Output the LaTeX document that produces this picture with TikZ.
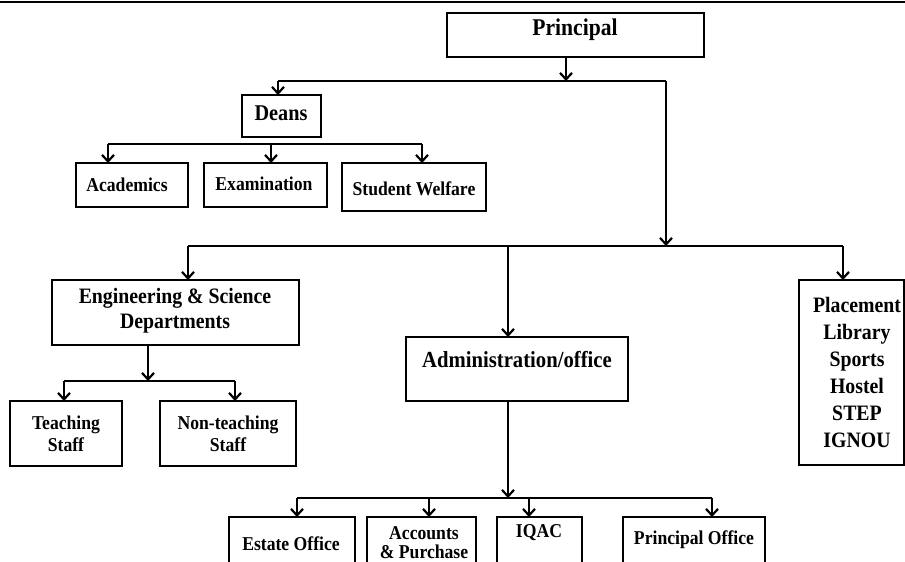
\documentclass[tikz,border=0pt]{standalone}
\usepackage{fontspec}
\setmainfont{Liberation Serif}[FakeStretch=0.9]
\usetikzlibrary{arrows.meta}
\begin{document}
\begin{tikzpicture}[x=1pt,y=-1pt,
  box/.style={draw, line width=2pt, anchor=north west, inner sep=0pt, outer sep=0pt},
  lbl/.style={font=\bfseries\fontsize{19.6}{22}\selectfont, inner sep=0pt, align=center},
  line/.style={line width=2pt},
  arr/.style={line width=2pt, -{Straight Barb[length=6.5pt,width=12pt,line width=2.2pt]}}]
\useasboundingbox (0,0) rectangle (905,562);
\draw[line width=2.5pt] (0,2) -- (905,2);
% boxes
\node[box, minimum width=257pt, minimum height=44pt] (principal) at (447,13) {};
\node[box, minimum width=79pt, minimum height=42pt] (deans) at (242,95) {};
\node[box, minimum width=112pt, minimum height=44pt] (acad) at (76,163) {};
\node[box, minimum width=123pt, minimum height=44pt] (exam) at (204,163) {};
\node[box, minimum width=144pt, minimum height=48pt] (welf) at (342,163) {};
\node[box, minimum width=247pt, minimum height=65pt] (eng) at (52,280) {};
\node[box, minimum width=112pt, minimum height=65pt] (teach) at (10,401) {};
\node[box, minimum width=136pt, minimum height=65pt] (nonteach) at (160,401) {};
\node[box, minimum width=222pt, minimum height=64pt] (admin) at (406,337) {};
\node[box, minimum width=104.5pt, minimum height=185pt] (place) at (799,280) {};
\node[box, minimum width=126pt, minimum height=60pt] (estate) at (229,517) {};
\node[box, minimum width=109pt, minimum height=60pt] (acc) at (367,517) {};
\node[box, minimum width=85pt, minimum height=60pt] (iqac) at (497,517) {};
\node[box, minimum width=142pt, minimum height=60pt] (poff) at (623,517) {};
% texts
\node[lbl, font=\bfseries\fontsize{24}{26}\selectfont] (tprincipal) at (575,30) {Principal};
\node[lbl, font=\bfseries\fontsize{22.5}{24}\selectfont] (tdeans) at (281,113) {Deans};
\node[lbl] (tacad) at (127,185) {Academics};
\node[lbl] (texam) at (264,184) {Examination};
\node[lbl] (twelf) at (414,189) {Student Welfare};
\node[lbl, font=\bfseries\fontsize{22}{25}\selectfont] (teng) at (175,310.5) {Engineering \& Science\\Departments};
\node[lbl, font=\bfseries\fontsize{19.6}{22}\selectfont] (tteach) at (66,434) {Teaching\\Staff};
\node[lbl, font=\bfseries\fontsize{19.6}{22}\selectfont] (tnonteach) at (228,434) {Non-teaching\\Staff};
\node[lbl, font=\bfseries\fontsize{23}{25}\selectfont] (tadmin) at (517,360) {Administration/office};
\node[lbl, font=\bfseries\fontsize{22}{27}\selectfont] (tplace) at (857,372) {Placement\\Library\\Sports\\Hostel\\STEP\\IGNOU};
\node[lbl] (testate) at (291,544) {Estate Office};
\node[lbl, font=\bfseries\fontsize{19.6}{19}\selectfont] (tacc) at (424,542.5) {Accounts\\\& Purchase};
\node[lbl] (tiqac) at (539,533) {IQAC};
\node[lbl] (tpoff) at (694,540) {Principal Office};
% bus coordinates
\coordinate (b1L) at (278,81);
\coordinate (b1P) at (566,81);
\coordinate (b1R) at (666,81);
\coordinate (b2L) at (108,144);
\coordinate (b2M) at (271,144);
\coordinate (b2R) at (422,144);
\coordinate (b3L) at (188,246);
\coordinate (b3A) at (508,246);
\coordinate (b3J) at (666,246);
\coordinate (b3R) at (843,246);
\coordinate (b4L) at (64,381);
\coordinate (b4M) at (148,381);
\coordinate (b4R) at (235,381);
\coordinate (b5L) at (297,498);
\coordinate (b5B) at (429,498);
\coordinate (b5A) at (508,498);
\coordinate (b5C) at (529,498);
\coordinate (b5R) at (712,498);
% connectors
\draw[arr] (b1P |- principal.south) -- (b1P);
\draw[line] (b1L) -- (b1R);
\draw[arr] (b1L) -- (b1L |- deans.north);
\draw[arr] (b1R) -- (b3J);
\draw[line] (b2L) -- (b2R);
\draw[arr] (b2L) -- (b2L |- acad.north);
\draw[arr] (b2M) -- (b2M |- exam.north);
\draw[arr] (b2R) -- (b2R |- welf.north);
\draw[line] (b3L) -- (b3R);
\draw[arr] (b3L) -- (b3L |- eng.north);
\draw[arr] (b3A) -- (b3A |- admin.north);
\draw[arr] (b3R) -- (b3R |- place.north);
\draw[arr] (b4M |- eng.south) -- (b4M);
\draw[line] (b4L) -- (b4R);
\draw[arr] (b4L) -- (b4L |- teach.north);
\draw[arr] (b4R) -- (b4R |- nonteach.north);
\draw[arr] (b5A |- admin.south) -- (b5A);
\draw[line] (b5L) -- (b5R);
\draw[arr] (b5L) -- (b5L |- estate.north);
\draw[arr] (b5B) -- (b5B |- acc.north);
\draw[arr] (b5C) -- (b5C |- iqac.north);
\draw[arr] (b5R) -- (b5R |- poff.north);
\end{tikzpicture}
\end{document}
